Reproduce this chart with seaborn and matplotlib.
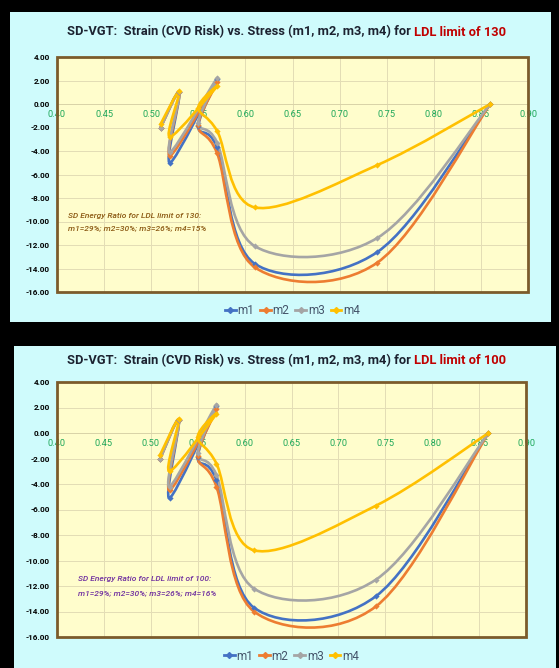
import matplotlib
matplotlib.use("Agg")
import matplotlib.pyplot as plt
import seaborn as sns
import numpy as np
from matplotlib.path import Path
from matplotlib.patches import PathPatch, Rectangle
from matplotlib.lines import Line2D

# ---------- data ----------
stress = [0.51, 0.53, 0.52, 0.57, 0.55, 0.57, 0.61, 0.74, 0.86]

# LDL limit of 130
m1_130 = [-2.0, 1.0, -5.0, 2.1, -1.9, -3.7, -13.6, -12.6, 0.0]
m2_130 = [-2.0, 1.0, -4.4, 1.9, -1.8, -4.2, -13.9, -13.5, 0.0]
m3_130 = [-2.0, 1.0, -4.1, 2.2, -1.6, -3.3, -12.1, -11.4, 0.0]
m4_130 = [-1.7, 1.1, -2.8, 1.5, -0.3, -2.3, -8.8, -5.2, 0.0]

# LDL limit of 100
m1_100 = [-2.0, 1.0, -5.1, 2.1, -1.9, -3.7, -13.7, -12.8, 0.0]
m2_100 = [-2.0, 1.0, -4.5, 1.9, -1.8, -4.2, -14.0, -13.6, 0.0]
m3_100 = [-2.0, 1.0, -4.2, 2.2, -1.6, -3.3, -12.2, -11.5, 0.0]
m4_100 = [-1.7, 1.1, -3.0, 1.5, -0.3, -2.4, -9.2, -5.7, 0.0]

series_names = ['m1', 'm2', 'm3', 'm4']
colors = ['#4472C4', '#ED7D31', '#A5A5A5', '#FFC000']

x_ticks = [0.40, 0.45, 0.50, 0.55, 0.60, 0.65, 0.70, 0.75, 0.80, 0.85, 0.90]
y_ticks = [4, 2, 0, -2, -4, -6, -8, -10, -12, -14, -16]

ratio_130 = "m1=29%; m2=30%; m3=26%; m4=15%"
ratio_100 = "m1=29%; m2=30%; m3=26%; m4=16%"

FONT = ['Roboto', 'DejaVu Sans']


def smooth_path(xs, ys):
    # Excel-like smoothed line: Catmull-Rom segments as cubic Bezier
    pts = np.column_stack([xs, ys])
    n = len(pts)
    verts = [pts[0]]
    codes = [Path.MOVETO]
    for i in range(n - 1):
        p0 = pts[i - 1] if i > 0 else pts[i]
        p1 = pts[i]
        p2 = pts[i + 1]
        p3 = pts[i + 2] if i + 2 < n else pts[i + 1]
        verts += [p1 + (p2 - p0) / 6, p2 - (p3 - p1) / 6, p2]
        codes += [Path.CURVE4] * 3
    return Path(verts, codes)


def draw_panel(fig, rect_px, data, limit, ratio_txt, note_color, note_xy, title_y, legend_y):
    W, H = fig.get_size_inches() * fig.dpi
    l, t, r, b = rect_px
    ax = fig.add_axes([l / W, 1 - b / H, (r - l) / W, (b - t) / H], zorder=2)
    ax.set_facecolor('#FFFDCC')

    for yv, c in zip(data, colors):
        ax.add_patch(PathPatch(smooth_path(stress, yv), facecolor='none',
                               edgecolor=c, lw=1.9, capstyle='round', joinstyle='round', zorder=3))
        sns.scatterplot(x=stress, y=yv, marker='D', s=10, color=c,
                        edgecolor=c, linewidth=0, ax=ax, zorder=4, legend=False)

    ax.set_xlim(0.40, 0.90)
    ax.set_ylim(-16, 4)
    ax.set_xticks(x_ticks)
    ax.set_yticks(y_ticks)
    ax.grid(True, color='#E3DDB5', lw=0.7)
    ax.set_axisbelow(True)
    ax.set_xlabel('')
    ax.set_ylabel('')

    for s in ['top', 'left', 'right']:
        ax.spines[s].set_visible(False)
    ax.spines['bottom'].set_position(('data', 0))
    ax.spines['bottom'].set_color('#D9D3A8')
    ax.spines['bottom'].set_linewidth(0.7)
    ax.tick_params(axis='x', length=0, pad=4, labelsize=6.7, labelcolor='#1FA85A')
    ax.tick_params(axis='y', length=0, pad=5, labelsize=5.9)
    ax.set_xticklabels([f"{v:.2f}" for v in x_ticks], family=FONT)
    ax.set_yticklabels([f"{v:.2f}" for v in y_ticks], family=FONT, fontweight='bold')

    ax.add_patch(Rectangle((0, 0), 1, 1, transform=ax.transAxes, fill=False,
                           edgecolor='#7B5B2B', lw=2.0, zorder=6, clip_on=False))

    # note text
    n1 = ax.text(note_xy[0], note_xy[1], f"SD Energy Ratio for LDL limit of {limit}:",
                 fontsize=6.0, style='italic', fontweight='medium', color=note_color,
                 family=FONT, va='center', ha='left', zorder=5)
    ax.text(note_xy[0], note_xy[1] - 1.1, ratio_txt, fontsize=6.0, style='italic',
            fontweight='medium', color=note_color, family=FONT, va='center', ha='left', zorder=5)

    # legend
    handles = [Line2D([], [], color=c, lw=2, marker='D', markersize=3) for c in colors]
    ax.legend(handles, series_names, loc='center',
              bbox_to_anchor=(0.5, -(legend_y - b) / (b - t)),
              ncol=4, frameon=False, handlelength=0.9, handletextpad=0.15,
              columnspacing=0.5, borderpad=0.1, prop={'family': FONT, 'size': 8.5},
              labelcolor='#44546A')

    # title in two colours
    t1 = fig.text(67 / W, 1 - title_y / H, "SD-VGT:  Strain (CVD Risk) vs. Stress (m1, m2, m3, m4) for ",
                  fontsize=9.3, fontweight='bold', color='#1C2230', family=FONT,
                  ha='left', va='center')
    t2 = fig.text(0, 0, f"LDL limit of {limit}", fontsize=9.3, fontweight='bold',
                  color='#C00000', family=FONT, ha='left', va='center')
    return ax, n1, t1, t2


fig = plt.figure(figsize=(5.59, 6.68), dpi=100, facecolor='black')
W, H = 559, 668

# panel backgrounds
fig.add_artist(Rectangle((10 / W, 1 - 322 / H), 541 / W, 310 / H,
                         transform=fig.transFigure, facecolor='#CFFBFC', edgecolor='none', zorder=-5))
fig.add_artist(Rectangle((14 / W, 0), 542 / W, 1 - 346 / H,
                         transform=fig.transFigure, facecolor='#CFFBFC', edgecolor='none', zorder=-5))

data_130 = [m1_130, m2_130, m3_130, m4_130]
data_100 = [m1_100, m2_100, m3_100, m4_100]

ax1, note1, title1, red1 = draw_panel(fig, (57, 57, 528, 292), data_130, 130, ratio_130,
                                      '#8C5A14', (0.412, -9.5), 32, 311)
ax2, note2, title2, red2 = draw_panel(fig, (57, 382, 526, 637), data_100, 100, ratio_100,
                                      '#7030A0', (0.422, -11.45), 361, 656)

# place the red part of each title right after the dark part, and underline notes
fig.canvas.draw()
rend = fig.canvas.get_renderer()
inv = fig.transFigure.inverted()
for dark, red in [(title1, red1), (title2, red2)]:
    bb = dark.get_window_extent(rend)
    x, y = inv.transform((bb.x1, (bb.y0 + bb.y1) / 2))
    red.set_position((x, y))

for note, col in [(note1, '#8C5A14'), (note2, '#7030A0')]:
    bb = note.get_window_extent(rend)
    (x0, y0), (x1, _) = inv.transform([(bb.x0, bb.y0 + 0.5), (bb.x1, bb.y0)])
    fig.add_artist(Line2D([x0, x1], [y0, y0], color=col, lw=0.6, transform=fig.transFigure))

fig.savefig('out.png', dpi=100, facecolor='black')
